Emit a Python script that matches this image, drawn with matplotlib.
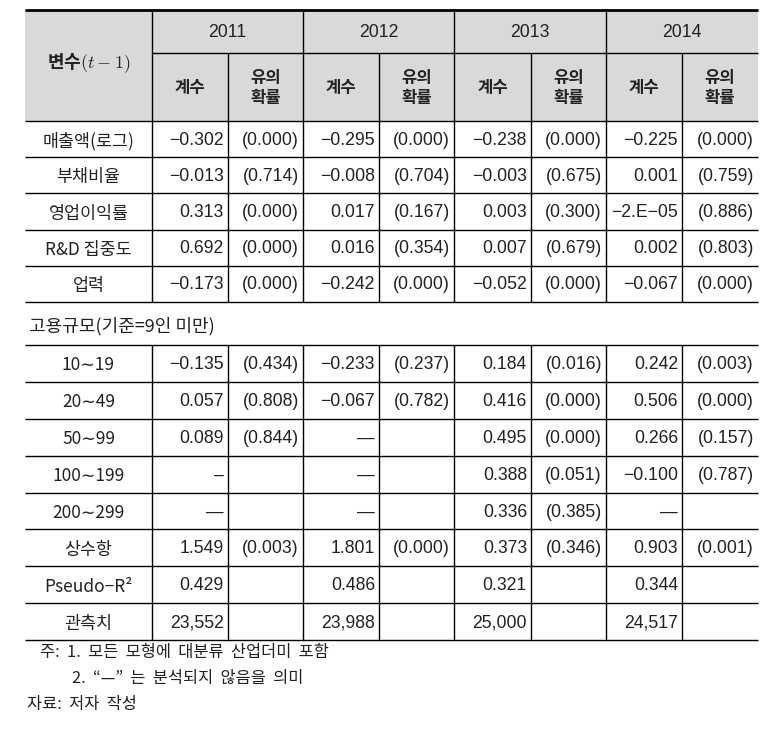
import matplotlib
matplotlib.use('Agg')
import matplotlib.pyplot as plt
from matplotlib.patches import Rectangle

plt.rcParams['font.family'] = ['Noto Sans CJK KR', 'DejaVu Sans']
plt.rcParams['mathtext.fontset'] = 'cm'

# ---- data ----
years = ['2011', '2012', '2013', '2014']
rows_firm = ['매출액(로그)', '부채비율', '영업이익률', 'R&D 집중도', '업력']
group_label = '고용규모(기준=9인 미만)'
rows_size = ['10∼19', '20∼49', '50∼99', '100∼199', '200∼299']
rows_tail = ['상수항', 'Pseudo−R²', '관측치']

coef_2011 = ['−0.302', '−0.013', '0.313', '0.692', '−0.173',
             '−0.135', '0.057', '0.089', '–', '—', '1.549', '0.429', '23,552']
pval_2011 = ['(0.000)', '(0.714)', '(0.000)', '(0.000)', '(0.000)',
             '(0.434)', '(0.808)', '(0.844)', '', '', '(0.003)', '', '']
coef_2012 = ['−0.295', '−0.008', '0.017', '0.016', '−0.242',
             '−0.233', '−0.067', '—', '—', '—', '1.801', '0.486', '23,988']
pval_2012 = ['(0.000)', '(0.704)', '(0.167)', '(0.354)', '(0.000)',
             '(0.237)', '(0.782)', '', '', '', '(0.000)', '', '']
coef_2013 = ['−0.238', '−0.003', '0.003', '0.007', '−0.052',
             '0.184', '0.416', '0.495', '0.388', '0.336', '0.373', '0.321', '25,000']
pval_2013 = ['(0.000)', '(0.675)', '(0.300)', '(0.679)', '(0.000)',
             '(0.016)', '(0.000)', '(0.000)', '(0.051)', '(0.385)', '(0.346)', '', '']
coef_2014 = ['−0.225', '0.001', '−2.E−05', '0.002', '−0.067',
             '0.242', '0.506', '0.266', '−0.100', '—', '0.903', '0.344', '24,517']
pval_2014 = ['(0.000)', '(0.759)', '(0.886)', '(0.803)', '(0.000)',
             '(0.003)', '(0.000)', '(0.157)', '(0.787)', '', '(0.001)', '', '']

coefs = [coef_2011, coef_2012, coef_2013, coef_2014]
pvals = [pval_2011, pval_2012, pval_2013, pval_2014]

notes = ['주:  1.  모든  모형에  대분류  산업더미  포함',
         '2.  “—”  는  분석되지  않음을  의미']
source = '자료:  저자  작성'

# ---- layout (pixels) ----
W, H = 779, 731
col_x = [25, 152, 228, 303, 379, 454, 531, 606, 682, 758]
y_top, y_year, y_head = 10, 53, 121
row_h = 36.2
group_h = 43
row_h2 = 36.9
fs_kr = 12.5
fs_num = 12.7
txt = '#222222'
num_font = ['Liberation Sans', 'Noto Sans CJK KR', 'DejaVu Sans']

fig = plt.figure(figsize=(W / 100, H / 100), dpi=100)
ax = fig.add_axes([0, 0, 1, 1])
ax.set_xlim(0, W)
ax.set_ylim(H, 0)
ax.axis('off')

# header background
ax.add_patch(Rectangle((col_x[0], y_top), col_x[-1] - col_x[0], y_head - y_top,
                       facecolor='#d9d9d9', edgecolor='none', zorder=0))

def hline(y, x0=col_x[0], x1=col_x[-1], lw=1.0):
    ax.plot([x0, x1], [y, y], color='black', lw=lw, solid_capstyle='butt')

def vline(x, y0, y1):
    ax.plot([x, x], [y0, y1], color='black', lw=1.0, solid_capstyle='butt')

hline(y_top, lw=2.0)
hline(y_year, col_x[1], col_x[-1])
hline(y_head)

# header text
ax.text((col_x[0] + col_x[1]) / 2, (y_top + y_head) / 2 - 2, '변수$(t-1)$',
        ha='center', va='center', fontsize=13, color=txt, fontweight='bold')
for i, yr in enumerate(years):
    xa, xb, xc = col_x[1 + 2 * i], col_x[2 + 2 * i], col_x[3 + 2 * i]
    ax.text((xa + xc) / 2, (y_top + y_year) / 2 + 1, yr, ha='center', va='center',
            fontsize=fs_num, color=txt, family=num_font)
    ax.text((xa + xb) / 2, (y_year + y_head) / 2 + 1, '계수', ha='center', va='center',
            fontsize=12, color=txt, fontweight='bold')
    ax.text((xb + xc) / 2, (y_year + y_head) / 2 + 1, '유의\n확률', ha='center',
            va='center', fontsize=12, color=txt, fontweight='bold', linespacing=1.1)

# body rows
row_labels = rows_firm + rows_size + rows_tail
bounds = []
y = y_head
for k in range(len(rows_firm)):
    bounds.append((y, y + row_h))
    y += row_h
y_group0 = y
y_group1 = y + group_h
y = y_group1
for k in range(len(rows_size) + len(rows_tail)):
    bounds.append((y, y + row_h2))
    y += row_h2
y_bottom = y

for (y0, y1) in bounds:
    hline(y1)
hline(y_group1)
ax.text(col_x[0] + 4, (y_group0 + y_group1) / 2 + 3, group_label, ha='left',
        va='center', fontsize=13, color=txt)

# vertical lines
for x in col_x[1:-1]:
    top = y_top if x in col_x[1::2] else y_year
    vline(x, top, y_group0)
    vline(x, y_group1, y_bottom)

for r, (y0, y1) in enumerate(bounds):
    yc = (y0 + y1) / 2
    ax.text((col_x[0] + col_x[1]) / 2, yc + 2, row_labels[r], ha='center', va='center',
            fontsize=fs_kr, color=txt)
    for i in range(4):
        ax.text(col_x[2 + 2 * i] - 4, yc + 1, coefs[i][r], ha='right', va='center',
                fontsize=fs_num, color=txt, family=num_font)
        ax.text(col_x[3 + 2 * i] - 4, yc + 1, pvals[i][r], ha='right', va='center',
                fontsize=fs_num, color=txt, family=num_font)

# footnotes
ax.text(40, 653, notes[0], ha='left', va='center', fontsize=11.8, color=txt)
ax.text(72, 678, notes[1], ha='left', va='center', fontsize=11.8, color=txt)
ax.text(27, 704, source, ha='left', va='center', fontsize=11.8, color=txt)

fig.savefig('out.png', dpi=100, facecolor='white')
